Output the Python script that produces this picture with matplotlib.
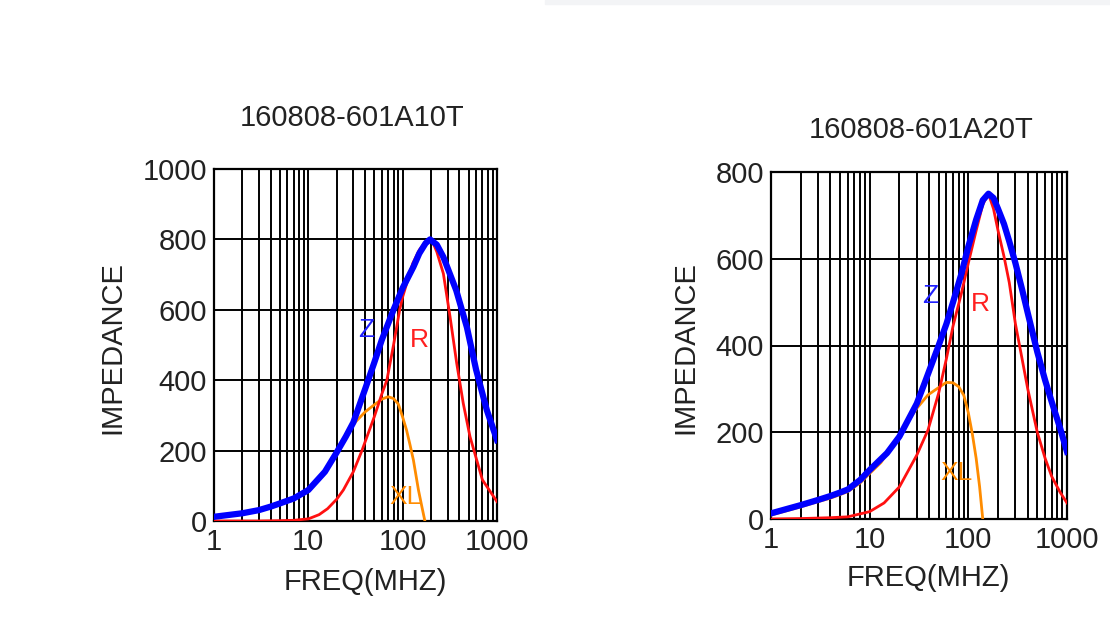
import matplotlib
matplotlib.use('Agg')
import matplotlib.pyplot as plt
from matplotlib.patches import Rectangle

plt.rcParams['font.family'] = ['Liberation Sans', 'DejaVu Sans']

# --- data (freq in MHz, impedance in ohm) ---
# 160808-601A10T
z_freq_a = [1, 2, 3, 4, 5, 7, 10, 15, 20, 25, 30, 40, 50, 60, 70, 80, 90, 100,
            130, 150, 175, 195, 230, 270, 370, 480, 600, 780, 1000]
z_a = [12, 22, 31, 41, 50, 64, 88, 140, 195, 240, 280, 375, 450, 514, 560, 600,
       633, 662, 722, 760, 789, 800, 785, 750, 655, 550, 430, 315, 230]
r_freq_a = [1, 3, 5, 7, 10, 13, 16, 20, 23.5, 30, 37, 40, 50, 60, 68, 80, 93,
            100, 128, 150, 175, 190, 210, 230, 270, 318, 374, 439, 517, 700,
            1000]
r_a = [0, 0, 1, 2, 6, 18, 35, 62, 88, 140, 200, 225, 296, 360, 400, 500, 600,
       637, 732, 770, 793, 800, 790, 765, 703, 580, 448, 334, 240, 117, 55]
xl_freq_a = [1, 2, 3, 5, 7, 10, 15, 20, 25, 30, 40, 50, 60, 70, 80, 90, 100,
             110, 120, 130, 147, 160, 172]
xl_a = [10, 20, 29, 47, 60, 84, 135, 190, 238, 275, 310, 330, 346, 353, 348,
        332, 295, 258, 215, 173, 88, 40, 0]

# 160808-601A20T
z_freq_b = [1, 2, 3, 4, 5, 6, 8, 10, 15, 20, 30, 36, 50, 60, 70, 85, 100, 120,
            140, 160, 180, 200, 230, 260, 300, 350, 400, 500, 600, 700, 850,
            1000]
z_b = [13, 32, 44, 53, 61, 68, 90, 113, 152, 190, 266, 313, 400, 450, 500, 565,
       628, 690, 735, 750, 740, 715, 680, 640, 590, 530, 475, 385, 320, 270,
       210, 155]
r_freq_b = [1, 2, 4, 6, 10, 14, 20, 30, 39, 50, 60, 70, 85, 100, 120, 140, 160,
            180, 200, 230, 260, 300, 350, 400, 500, 600, 700, 850, 1000]
r_b = [0, 1, 3, 5, 17, 37, 74, 147, 205, 290, 370, 445, 520, 590, 665, 725,
       750, 715, 665, 605, 545, 450, 370, 300, 200, 140, 98, 62, 37]
xl_freq_b = [1, 2, 3, 4, 6, 8, 10, 13, 16, 20, 25, 30, 39, 50, 60, 70, 80, 90,
             100, 110, 120, 130, 140]
xl_b = [9, 28, 40, 48, 63, 83, 105, 130, 160, 192, 228, 255, 286, 303, 315,
        314, 305, 285, 245, 195, 140, 75, 0]

titles = ['160808-601A10T', '160808-601A20T']
ymax = [1000, 800]

fig = plt.figure(figsize=(11.1, 6.42), dpi=100)
fig.patches.append(Rectangle((545 / 1110, 1 - 4 / 642), 1, 4 / 642,
                             transform=fig.transFigure, color='#f3f4f6', zorder=0))

ax1 = fig.add_axes([214 / 1110, 1 - 521 / 642, 283 / 1110, 352 / 642])
ax2 = fig.add_axes([771 / 1110, 1 - 519 / 642, 296 / 1110, 347 / 642])

curves = [
    (ax1, z_freq_a, z_a, r_freq_a, r_a, xl_freq_a, xl_a),
    (ax2, z_freq_b, z_b, r_freq_b, r_b, xl_freq_b, xl_b),
]

for i, (ax, fz, z, fr, r, fx, xl) in enumerate(curves):
    ax.set_xscale('log')
    ax.set_xlim(1, 1000)
    ax.set_ylim(0, ymax[i])
    ax.set_yticks(range(0, ymax[i] + 1, 200))
    ax.set_xticks([1, 10, 100, 1000])
    ax.set_xticklabels(['1', '10', '100', '1000'])
    ax.grid(True, which='major', color='black', lw=1.4)
    ax.grid(True, which='minor', axis='x', color='black', lw=1.4)
    ax.tick_params(which='both', length=0, labelsize=21, pad=5, colors='#222222')
    for s in ax.spines.values():
        s.set_linewidth(1.6)

    ax.plot(fx, xl, color='#ff8c00', lw=2.0, zorder=3, solid_joinstyle='round')
    ax.plot(fr, r, color='#ff1010', lw=2.0, zorder=4, solid_joinstyle='round')
    ax.plot(fz, z, color='#0000ff', lw=4.5, zorder=5, solid_joinstyle='round')

# curve labels
ax1.text(41, 543, 'Z', color='#2020ff', fontsize=19, ha='center', va='center')
ax1.text(152, 514, 'R', color='#ff2020', fontsize=19, ha='center', va='center')
ax1.text(107, 68, 'XL', color='#ff8c00', fontsize=19, ha='center', va='center')
ax2.text(41, 514, 'Z', color='#2020ff', fontsize=19, ha='center', va='center')
ax2.text(134, 495, 'R', color='#ff2020', fontsize=19, ha='center', va='center')
ax2.text(76, 106, 'XL', color='#ff8c00', fontsize=19, ha='center', va='center')

# titles and axis labels
fig.text(352 / 1110, 1 - 118 / 642, titles[0], fontsize=21, ha='center', va='center', color='#222222')
fig.text(921 / 1110, 1 - 130 / 642, titles[1], fontsize=21, ha='center', va='center', color='#222222')
fig.text(112 / 1110, 1 - 348 / 642, 'IMPEDANCE', fontsize=21, rotation=90, ha='center', va='center', color='#222222')
fig.text(685 / 1110, 1 - 348 / 642, 'IMPEDANCE', fontsize=21, rotation=90, ha='center', va='center', color='#222222')
fig.text(365 / 1110, 1 - 582 / 642, 'FREQ(MHZ)', fontsize=21, ha='center', va='center', color='#222222')
fig.text(928 / 1110, 1 - 578 / 642, 'FREQ(MHZ)', fontsize=21, ha='center', va='center', color='#222222')

fig.savefig('out.png', dpi=100)
